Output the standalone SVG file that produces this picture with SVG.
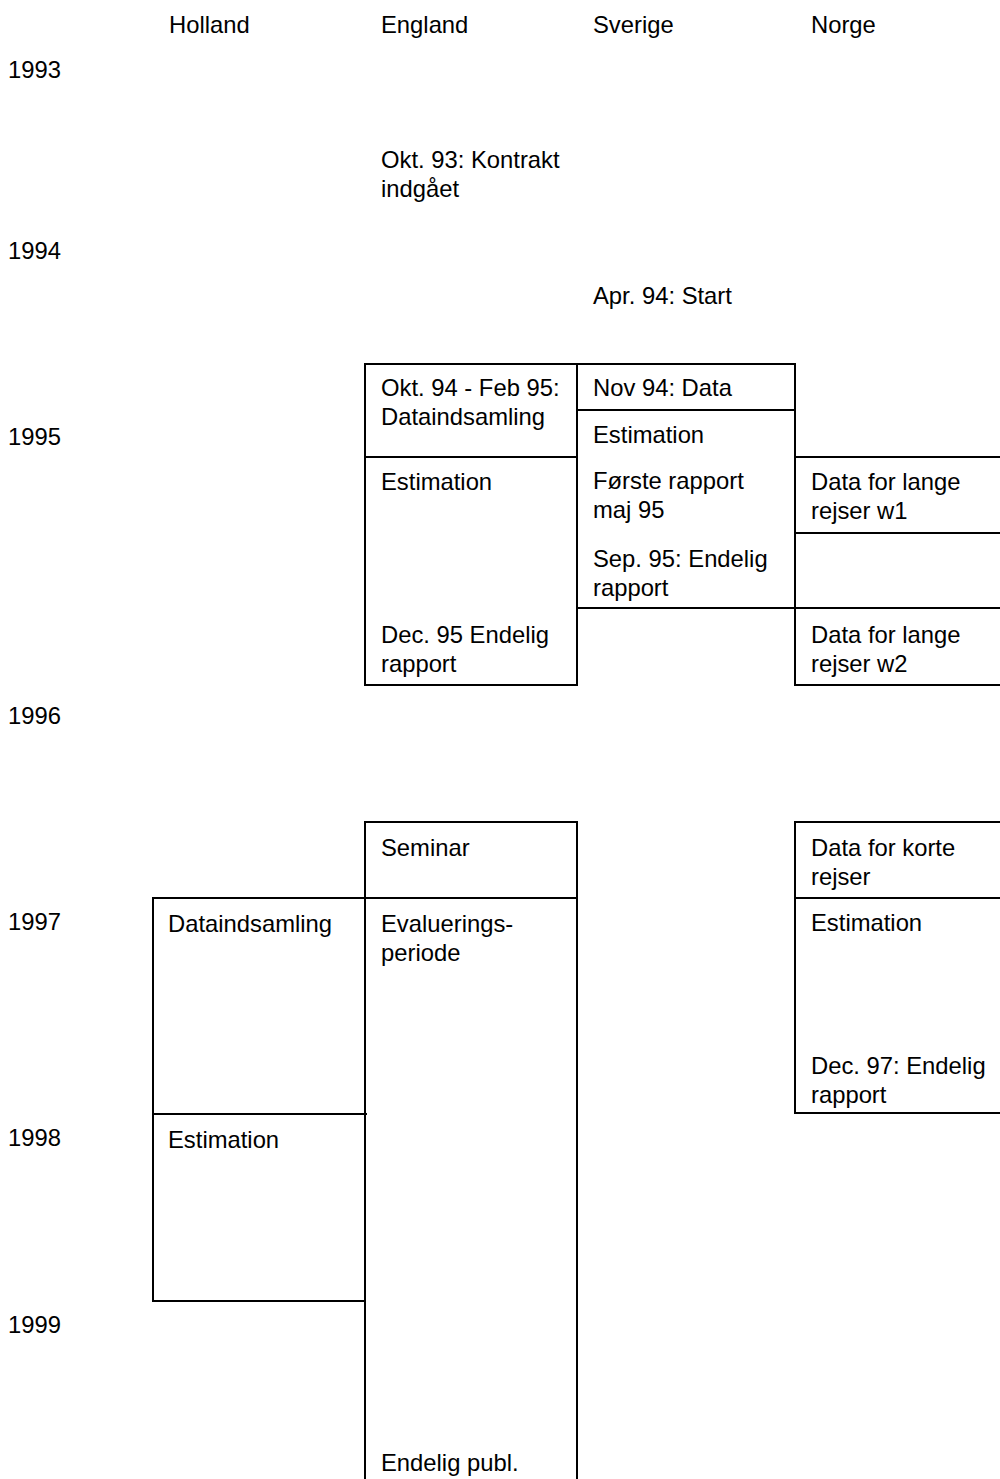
<svg xmlns="http://www.w3.org/2000/svg" width="1000" height="1479" viewBox="0 0 1000 1479">
<style>
text{font-family:"Liberation Sans",Arial,sans-serif;font-size:23.8px;fill:#000}
.c{fill:none;stroke:#000;stroke-width:2}
</style>
<rect width="1000" height="1479" fill="#fff"/>
<g id="headers">
<text x="169" y="33">Holland</text>
<text x="381" y="33">England</text>
<text x="593" y="33">Sverige</text>
<text x="811" y="33">Norge</text>
</g>
<g id="years">
<text x="8" y="78">1993</text>
<text x="8" y="259">1994</text>
<text x="8" y="445">1995</text>
<text x="8" y="724">1996</text>
<text x="8" y="930">1997</text>
<text x="8" y="1146">1998</text>
<text x="8" y="1333">1999</text>
</g>
<g id="eng-kontrakt"><text x="381" y="168">Okt. 93: Kontrakt</text><text x="381" y="197">indgået</text></g>
<g id="sve-start"><text x="593" y="304">Apr. 94: Start</text></g>
<g id="eng-data95"><rect class="c" x="365" y="364" width="212" height="93"/><text x="381" y="396">Okt. 94 - Feb 95:</text><text x="381" y="425">Dataindsamling</text></g>
<g id="eng-est95"><rect class="c" x="365" y="457" width="212" height="228"/><text x="381" y="490">Estimation</text><text x="381" y="643">Dec. 95 Endelig</text><text x="381" y="672">rapport</text></g>
<g id="sve-data"><rect class="c" x="577" y="364" width="218" height="46"/><text x="593" y="396">Nov 94: Data</text></g>
<g id="sve-est"><rect class="c" x="577" y="410" width="218" height="198"/><text x="593" y="443">Estimation</text><text x="593" y="489">Første rapport</text><text x="593" y="518">maj 95</text><text x="593" y="567">Sep. 95: Endelig</text><text x="593" y="596">rapport</text></g>
<g id="nor-w1"><rect class="c" x="795" y="457" width="210" height="76"/><text x="811" y="490">Data for lange</text><text x="811" y="519">rejser w1</text></g>
<g id="nor-gap"><rect class="c" x="795" y="533" width="210" height="75"/></g>
<g id="nor-w2"><rect class="c" x="795" y="608" width="210" height="77"/><text x="811" y="643">Data for lange</text><text x="811" y="672">rejser w2</text></g>
<g id="eng-seminar"><rect class="c" x="365" y="822" width="212" height="76"/><text x="381" y="856">Seminar</text></g>
<g id="eng-eval"><rect class="c" x="365" y="898" width="212" height="600"/><text x="381" y="932">Evaluerings-</text><text x="381" y="961">periode</text><text x="381" y="1471">Endelig publ.</text></g>
<g id="hol-data"><rect class="c" x="153" y="898" width="212" height="216"/><line class="c" x1="365" y1="1114" x2="367" y2="1114"/><text x="168" y="932">Dataindsamling</text></g>
<g id="hol-est"><rect class="c" x="153" y="1114" width="212" height="187"/><line class="c" x1="152" y1="1301" x2="154" y2="1301"/><text x="168" y="1148">Estimation</text></g>
<g id="nor-korte"><rect class="c" x="795" y="822" width="210" height="76"/><text x="811" y="856">Data for korte</text><text x="811" y="885">rejser</text></g>
<g id="nor-est"><rect class="c" x="795" y="898" width="210" height="215"/><text x="811" y="931">Estimation</text><text x="811" y="1074">Dec. 97: Endelig</text><text x="811" y="1103">rapport</text></g>
<g id="connectors"/>
</svg>
